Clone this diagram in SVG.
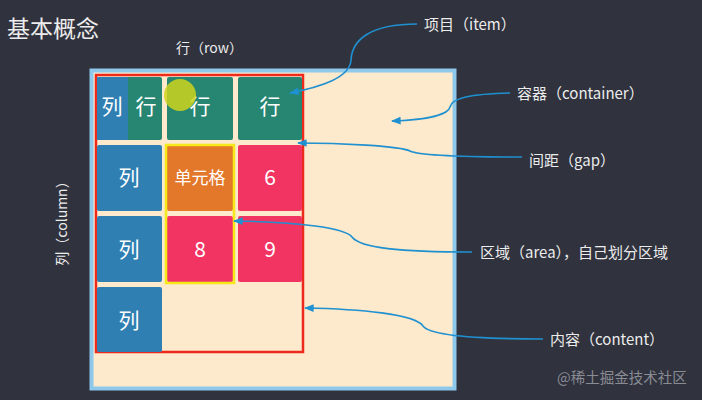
<svg xmlns="http://www.w3.org/2000/svg" width="702" height="400" viewBox="0 0 702 400">
<defs>
<style>
.t{font-family:"Noto Sans CJK SC","Noto Sans",sans-serif;fill:#ececec}
.c{font-family:"Noto Sans CJK SC","Noto Sans",sans-serif;fill:#ffffff;text-anchor:middle;font-size:21px}
.c.s{font-size:17px}
.lbl{font-size:15px}
.blue{fill:#2f7fb3}
.green{fill:#268672}
.pink{fill:#f23462}
.orange{fill:#e3782a}
.conn{fill:none;stroke:#1f90d0;stroke-width:1.6}
</style>
<marker id="ah" viewBox="0 0 10 10" refX="9" refY="5" markerWidth="6" markerHeight="6" orient="auto-start-reverse">
<path d="M0,1 L10,5 L0,9 z" fill="#1f90d0"/>
</marker>
</defs>
<rect x="0" y="0" width="702" height="400" fill="#30323e"/>
<text class="t" x="7" y="37" font-size="23">基本概念</text>
<text class="t" x="176" y="53" font-size="14">行（row）</text>
<text class="t" font-size="14" transform="translate(67,220) rotate(-90)" text-anchor="middle">列（column）</text>

<g id="container">
<rect x="91.5" y="70.5" width="363" height="318" fill="#fde9cc" stroke="#8ec9ec" stroke-width="4"/>
</g>
<g id="content">
<rect x="96" y="75" width="207" height="277" fill="none" stroke="#ee2a1c" stroke-width="2.5"/>
</g>
<g id="cells">
<g id="r1c1">
<rect class="green" x="97" y="77" width="65" height="63" rx="2"/>
<rect class="blue" x="97" y="77" width="31" height="63" rx="1"/>
<text class="c" x="112" y="114">列</text>
<text class="c" x="146" y="114">行</text>
</g>
<g id="r1c2"><rect class="green" x="167" y="77" width="66" height="63" rx="2"/><text class="c" x="200" y="114">行</text></g>
<g id="r1c3"><rect class="green" x="238" y="77" width="64" height="63" rx="2"/><text class="c" x="270" y="114">行</text></g>
<g id="r2c1"><rect class="blue" x="97" y="145" width="65" height="66" rx="2"/><text class="c" x="129" y="185">列</text></g>
<g id="r2c2"><rect class="orange" x="167" y="145" width="66" height="66" rx="2"/><text class="c s" x="200" y="184">单元格</text></g>
<g id="r2c3"><rect class="pink" x="238" y="145" width="64" height="66" rx="2"/><text class="c" x="270" y="185">6</text></g>
<g id="r3c1"><rect class="blue" x="97" y="216" width="65" height="66" rx="2"/><text class="c" x="129" y="257">列</text></g>
<g id="r3c2"><rect class="pink" x="167" y="216" width="66" height="66" rx="2"/><text class="c" x="200" y="257">8</text></g>
<g id="r3c3"><rect class="pink" x="238" y="216" width="64" height="66" rx="2"/><text class="c" x="270" y="257">9</text></g>
<g id="r4c1"><rect class="blue" x="97" y="287" width="65" height="65" rx="2"/><text class="c" x="129" y="328">列</text></g>
</g>
<g id="area">
<rect x="166" y="145" width="68" height="138" fill="none" stroke="#f7e81a" stroke-width="2.5"/>
</g>
<circle cx="180" cy="95" r="16" fill="#cfd41c" opacity="0.85"/>

<g id="connectors">
<path class="conn" marker-end="url(#ah)" d="M417,24 C370,24 352,40 351,60 C350,78 320,87 290,93"/>
<path class="conn" marker-end="url(#ah)" d="M510,93 C470,94 452,98 450,107 C448,116 420,120 392,121"/>
<path class="conn" marker-end="url(#ah)" d="M522,157 C470,157 420,156 410,151 C400,146 340,143 298,143"/>
<path class="conn" marker-end="url(#ah)" d="M472,252 C400,252 360,248 352,237 C345,228 300,222 234,221"/>
<path class="conn" marker-end="url(#ah)" d="M543,339 C480,339 430,336 423,326 C415,314 360,309 305,308"/>
</g>
<g id="labels">
<text class="t lbl" x="424" y="30">项目（item）</text>
<text class="t lbl" x="517" y="99">容器（container）</text>
<text class="t lbl" x="529" y="166">间距（gap）</text>
<text class="t lbl" x="480" y="258">区域（area），自己划分区域</text>
<text class="t lbl" x="550" y="345">内容（content）</text>
</g>
<text x="557" y="383" font-size="14.5" fill="#8a8c94" font-family="Noto Sans CJK SC, sans-serif">@稀土掘金技术社区</text>
</svg>
